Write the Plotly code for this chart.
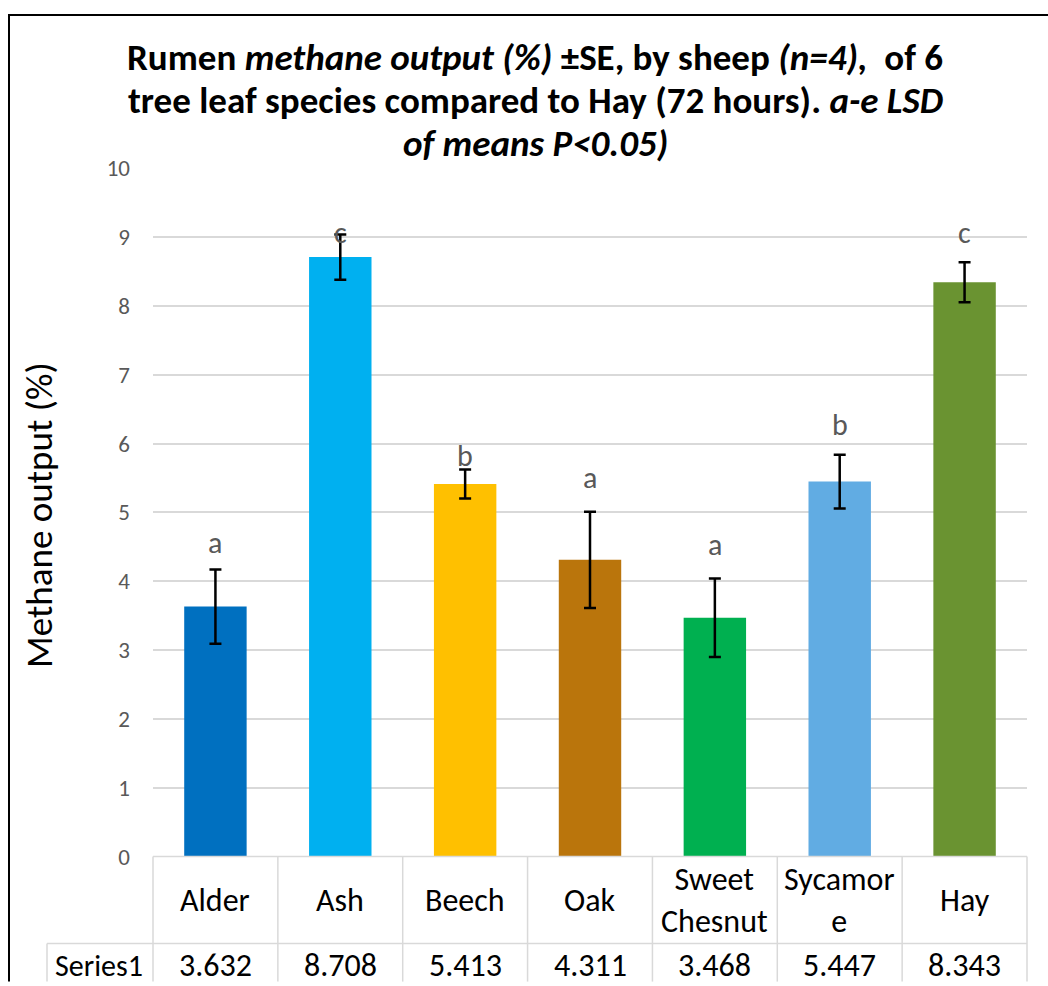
import plotly.graph_objects as go

# ---- data ----
categories = ["Alder", "Ash", "Beech", "Oak", "Sweet Chesnut", "Sycamore", "Hay"]
table_labels = ["Alder", "Ash", "Beech", "Oak", "Sweet<br>Chesnut", "Sycamor<br>e", "Hay"]
values = [3.632, 8.708, 5.413, 4.311, 3.468, 5.447, 8.343]
se = [0.54, 0.33, 0.21, 0.70, 0.57, 0.39, 0.29]
letters = ["a", "c", "b", "a", "a", "b", "c"]
letter_y = [4.56, 9.07, 5.83, 5.50, 4.53, 6.27, 9.06]
series_name = "Series1"
colors = ["#0070C0", "#00B0F0", "#FFC000", "#BA750C", "#00B050", "#61ACE3", "#6A9331"]

W, H = 1048, 986
FONT = "Carlito, Lato, sans-serif"
GRID = "#d9d9d9"

# the captured picture maps page y to 13.7 + 0.9724*y; compensate so marks land where the reference has them
Y0, YS = 13.7, 0.9724


def px(x):
    return x / W


def py(y):
    yp = (y - Y0) / YS
    return 1 - yp / H


PL, PR, PT, PB = 153, 1027, 168, 857

fig = go.Figure()
fig.add_trace(go.Bar(
    x=categories, y=values, width=0.5,
    marker=dict(color=colors, line=dict(width=0)),
    error_y=dict(type="data", array=se, visible=True, color="black", thickness=2.5, width=6),
    showlegend=False,
))

annotations = []
for c, l, ly in zip(categories, letters, letter_y):
    annotations.append(dict(x=c, y=ly, xref="x", yref="y", text=l, showarrow=False,
                            font=dict(family=FONT, size=30, color="#595959")))

title_lines = [
    "<b>Rumen <i>methane output (%)</i> ±SE, by sheep <i>(n=4),</i>  of 6</b>",
    "<b>tree leaf species compared to Hay (72 hours). <i>a-e LSD</i></b>",
    "<b><i>of means P&lt;0.05)</i></b>",
]
for t, yc in zip(title_lines, [57, 100, 143]):
    annotations.append(dict(x=px(535), y=py(yc), xref="paper", yref="paper", text=t,
                            showarrow=False, xanchor="center", yanchor="middle",
                            font=dict(family=FONT, size=37, color="black")))

annotations.append(dict(x=px(40), y=py(515), xref="paper", yref="paper", text="Methane output (%)",
                        textangle=-90, showarrow=False, xanchor="center", yanchor="middle",
                        font=dict(family=FONT, size=37, color="black")))

for c, lab, v in zip(categories, table_labels, values):
    annotations.append(dict(x=c, y=py(901), xref="x", yref="paper", text=lab, showarrow=False,
                            xanchor="center", yanchor="middle", font=dict(family=FONT, size=32, color="black")))
    annotations.append(dict(x=c, y=py(966), xref="x", yref="paper", text=f"{v:.3f}", showarrow=False,
                            xanchor="center", yanchor="middle", font=dict(family=FONT, size=32, color="black")))
annotations.append(dict(x=px(99), y=py(966), xref="paper", yref="paper", text=series_name,
                        showarrow=False, xanchor="center", yanchor="middle",
                        font=dict(family=FONT, size=30, color="black")))

shapes = []
lw = 1.5
BOT = 1.0  # paper bottom edge
shapes.append(dict(type="line", xref="paper", yref="paper", x0=px(PL), x1=px(PR), y0=py(PB), y1=py(PB),
                   line=dict(color=GRID, width=lw)))
shapes.append(dict(type="line", xref="paper", yref="paper", x0=px(47), x1=px(PR), y0=py(944), y1=py(944),
                   line=dict(color=GRID, width=lw)))
for xx in [PL, PR]:
    shapes.append(dict(type="line", xref="paper", yref="paper", x0=px(xx), x1=px(xx), y0=py(PB), y1=-0.01,
                       line=dict(color=GRID, width=lw)))
shapes.append(dict(type="line", xref="paper", yref="paper", x0=px(47), x1=px(47), y0=py(944), y1=-0.01,
                   line=dict(color=GRID, width=lw)))
for i in range(1, len(categories)):
    shapes.append(dict(type="line", xref="x", yref="paper", x0=i - 0.5, x1=i - 0.5, y0=py(PB), y1=-0.01,
                       line=dict(color=GRID, width=lw)))
# outer chart border (left & top visible)
shapes.append(dict(type="line", xref="paper", yref="paper", x0=px(9), x1=px(9), y0=0.999, y1=-0.01,
                   line=dict(color="black", width=2)))
shapes.append(dict(type="line", xref="paper", yref="paper", x0=px(8), x1=px(W + 5), y0=0.999, y1=0.999,
                   line=dict(color="black", width=2)))

fig.update_layout(
    width=W, height=H,
    margin=dict(l=0, r=0, t=0, b=0),
    paper_bgcolor="white", plot_bgcolor="white",
    bargap=0.5,
    xaxis=dict(domain=[px(PL), px(PR)], range=[-0.5, 6.5], showticklabels=False, showgrid=False,
               zeroline=False, showline=False, ticks=""),
    yaxis=dict(domain=[py(PB), py(PT)], range=[0, 10], dtick=1, showgrid=True, gridcolor=GRID, gridwidth=1.5,
               zeroline=False, showline=False, ticks="", ticklabelstandoff=22,
               tickfont=dict(family=FONT, size=23, color="#595959")),
    annotations=annotations,
    shapes=shapes,
)

post = (
    "document.documentElement.style.margin='0';document.documentElement.style.overflow='hidden';"
    "document.body.style.margin='0';document.body.style.overflow='hidden';"
    "var gd=document.getElementById('{plot_id}');gd.style.position='fixed';"
    "gd.style.left='0px';gd.style.top='0px';"
)

fig.write_html("out.html", post_script=post, config={"displayModeBar": False})
